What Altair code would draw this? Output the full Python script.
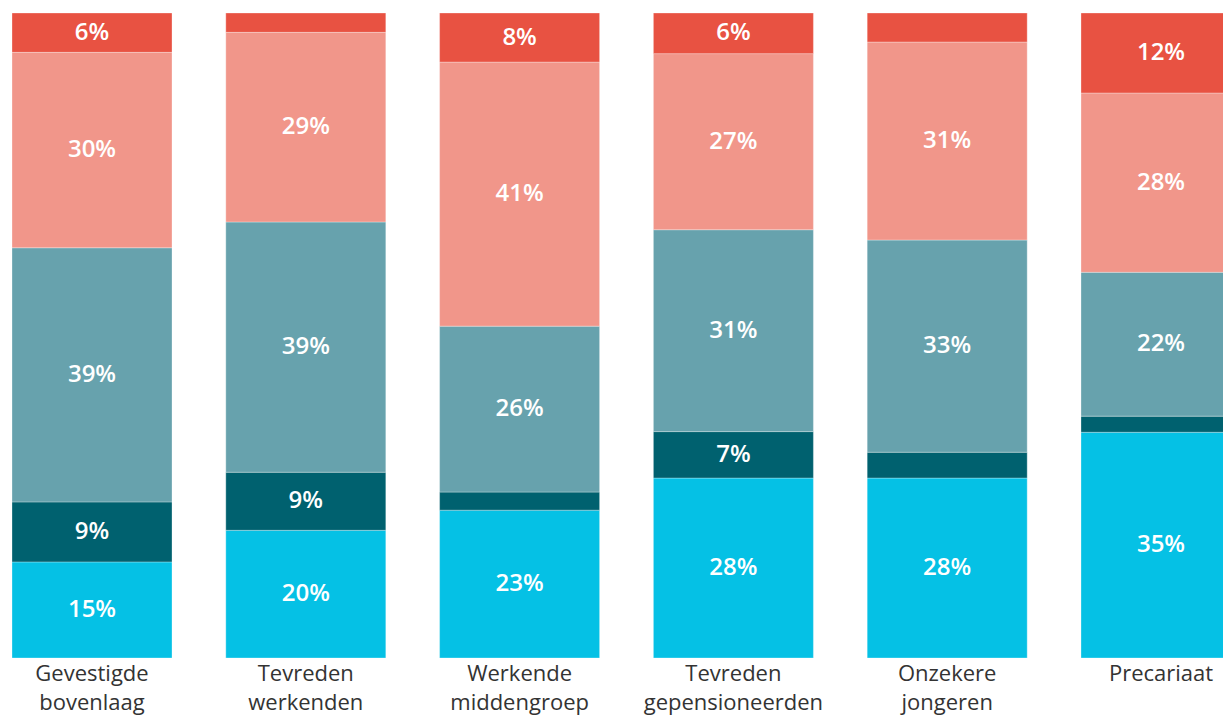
import altair as alt
import pandas as pd

# Categories (left to right)
groups = [
    "Gevestigde bovenlaag",
    "Tevreden werkenden",
    "Werkende middengroep",
    "Tevreden gepensioneerden",
    "Onzekere jongeren",
    "Precariaat",
]

# Segments, bottom to top
segment_keys = ["s1", "s2", "s3", "s4", "s5"]
segment_colors = ["#05c1e5", "#00616f", "#67a2ad", "#f1968a", "#e85242"]

# Percentages per segment, one value per category
s1_cyan = [14.9, 19.8, 22.9, 27.9, 27.9, 35.0]
s2_dark = [9.3, 9.0, 2.8, 7.2, 4.0, 2.5]
s3_teal = [39.4, 38.8, 25.7, 31.3, 32.9, 22.3]
s4_salmon = [30.3, 29.4, 40.9, 27.3, 30.7, 27.8]
s5_red = [6.1, 3.0, 7.6, 6.3, 4.5, 12.4]

series = [s1_cyan, s2_dark, s3_teal, s4_salmon, s5_red]

rows = []
for gi, g in enumerate(groups):
    for si, key in enumerate(segment_keys):
        rows.append({"group": g, "segment": key, "idx": si, "value": series[si][gi]})
df = pd.DataFrame(rows)

FONT = "Open Sans"

x_enc = alt.X(
    "group:N",
    sort=groups,
    scale=alt.Scale(range=[0, 1229], paddingInner=0.2516, paddingOuter=0),
    axis=alt.Axis(
        title=None,
        labelExpr="split(datum.label, ' ')",
        labelFont=FONT,
        labelFontSize=22,
        labelColor="#333333",
        labelLineHeight=29,
        labelPadding=5,
        labelBaseline="top",
        labelAngle=0,
        labelLimit=400,
        labelOverlap=False,
        labelBound=False,
        domain=False,
        ticks=False,
        grid=False,
    ),
)

y_scale = alt.Scale(domain=[0, 1], nice=False, zero=True)

base = (
    alt.Chart(df)
    .transform_stack(
        stack="value",
        groupby=["group"],
        as_=["y0", "y1"],
        offset="normalize",
        sort=[alt.SortField("idx", order="ascending")],
    )
    .transform_calculate(
        mid="(datum.y0 + datum.y1) / 2",
        label="format(datum.value, '.0f') + '%'",
    )
)

bars = base.mark_bar(stroke="white", strokeWidth=1, strokeOpacity=0.3).encode(
    x=x_enc,
    y=alt.Y("y0:Q", scale=y_scale, axis=None),
    y2="y1:Q",
    color=alt.Color(
        "segment:N",
        scale=alt.Scale(domain=segment_keys, range=segment_colors),
        legend=None,
    ),
)

texts = (
    base.transform_filter("datum.value >= 5")
    .mark_text(
        font=FONT,
        fontSize=24,
        fontWeight=600,
        color="white",
        baseline="middle",
        align="center",
    )
    .encode(
        x=alt.X("group:N", sort=groups),
        y=alt.Y("mid:Q", scale=y_scale, axis=None),
        text="label:N",
    )
)

chart = (
    alt.layer(bars, texts)
    .properties(
        width=1211,
        height=645,
        autosize=alt.AutoSizeParams(type="none"),
        padding={"left": 4, "top": 5, "right": 0, "bottom": 62},
    )
    .configure(background="white")
    .configure_view(stroke=None)
)

chart.save("out.html", embed_options={"renderer": "svg", "actions": False})
